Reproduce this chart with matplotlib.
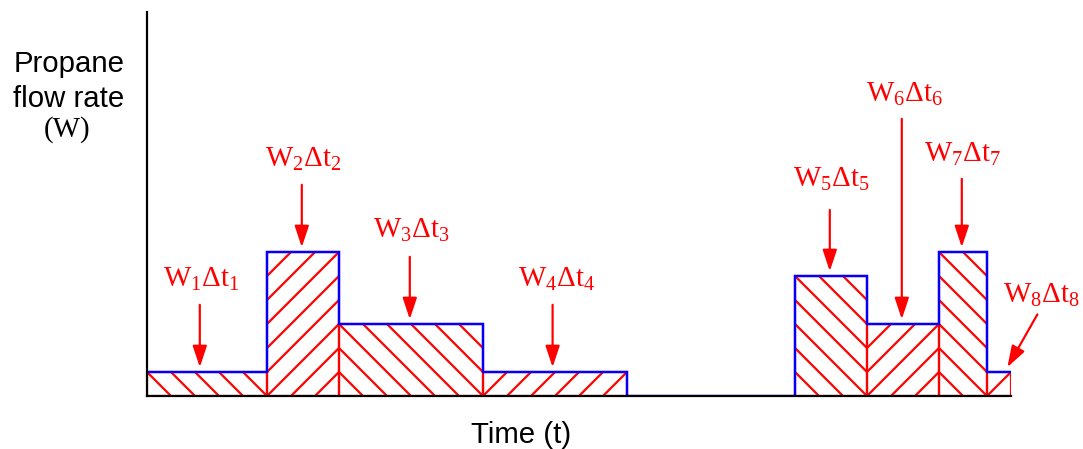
import numpy as np
import matplotlib
matplotlib.use("Agg")
import matplotlib.pyplot as plt
from matplotlib.collections import LineCollection

# time slices (widths) and flow rate in each slice
widths = [5, 3, 6, 6, 7, 3, 3, 2, 1]
rates = [1, 6, 3, 1, 0, 5, 3, 6, 1]
hatches = ['\\', '/', '\\', '/', None, '\\', '/', '\\', '/']
labels = [r'W$_1$Δt$_1$', r'W$_2$Δt$_2$', r'W$_3$Δt$_3$', r'W$_4$Δt$_4$',
          r'W$_5$Δt$_5$', r'W$_6$Δt$_6$', r'W$_7$Δt$_7$', r'W$_8$Δt$_8$']

# annotation layout (data units): text anchor, arrow x, arrow start y
label_pos = [(2.25, 4.55), (6.5, 9.55), (11.0, 6.6), (17.05, 4.55),
             (28.5, 8.7), (31.55, 12.25), (34.0, 9.75), (37.25, 3.9)]
arrow_x = [2.2, 6.45, 10.95, 16.9, 28.45, 31.45, 33.95, 37.1]
arrow_y0 = [3.8, 8.8, 5.8, 3.8, 7.75, 11.55, 9.05, 3.4]
arrow_tip_x = [2.2, 6.45, 10.95, 16.9, 28.45, 31.45, 33.95, 35.85]

plt.rcParams['mathtext.fontset'] = 'custom'
plt.rcParams['mathtext.rm'] = 'Liberation Serif'
plt.rcParams['mathtext.it'] = 'Liberation Serif'

W, H, DPI = 1083, 449, 144
fig = plt.figure(figsize=(W / DPI, H / DPI), dpi=DPI)
ax = fig.add_axes([147 / W, 53 / H, 864 / W, 384 / H])
ax.set_xlim(0, 36)
ax.set_ylim(0, 16)
ax.set_xticks([])
ax.set_yticks([])
for s in ['top', 'right']:
    ax.spines[s].set_visible(False)
for s in ['left', 'bottom']:
    ax.spines[s].set_linewidth(1.1)
    ax.spines[s].set_zorder(5)

edges = np.concatenate([[0], np.cumsum(widths)])
lefts = edges[:-1]
bars = [i for i, r in enumerate(rates) if r > 0]
for i in bars:
    x0, x1, h = lefts[i], edges[i + 1], rates[i]
    bc = ax.bar(x0, h, widths[i], align='edge', fill=False,
                edgecolor='red', linewidth=1.1, zorder=2)
    # 45 degree hatch lines on the unit grid, clipped to the bar
    segs = []
    for c in range(int(x0 - h) - 1, int(x1 + h) + 2):
        if hatches[i] == '/':
            segs.append([(c, 0), (c + h, h)])
        else:
            segs.append([(c, 0), (c - h, h)])
    lc = LineCollection(segs, colors='red', linewidths=1.1, zorder=1)
    ax.add_collection(lc)
    lc.set_clip_path(bc.patches[0])

ax.stairs(rates, edges, baseline=None, color='blue', linewidth=1.2, zorder=3)

for k, i in enumerate(bars):
    tip = (arrow_tip_x[k], rates[i] + 0.2)
    ax.annotate('', xy=tip, xytext=(arrow_x[k], arrow_y0[k]),
                arrowprops=dict(arrowstyle='-|>,head_length=0.9,head_width=0.3',
                                color='red', lw=1.1, shrinkA=0, shrinkB=0,
                                mutation_scale=10),
                annotation_clip=False)
    ax.text(label_pos[k][0], label_pos[k][1], labels[k], color='red',
            fontsize=14.5, family='Liberation Serif', ha='center',
            va='baseline', clip_on=False)

fig.text(69 / W, 1 - 72 / H, 'Propane', fontsize=14.7, family='Liberation Sans',
         ha='center', va='baseline')
fig.text(69 / W, 1 - 107 / H, 'flow rate', fontsize=14.7, family='Liberation Sans',
         ha='center', va='baseline')
fig.text(67 / W, 1 - 137 / H, '(W)', fontsize=14.5, family='Liberation Serif',
         ha='center', va='baseline')
fig.text(521 / W, 1 - 443 / H, 'Time (t)', fontsize=14.7, family='Liberation Sans',
         ha='center', va='baseline')

fig.savefig('out.png', dpi=DPI)
